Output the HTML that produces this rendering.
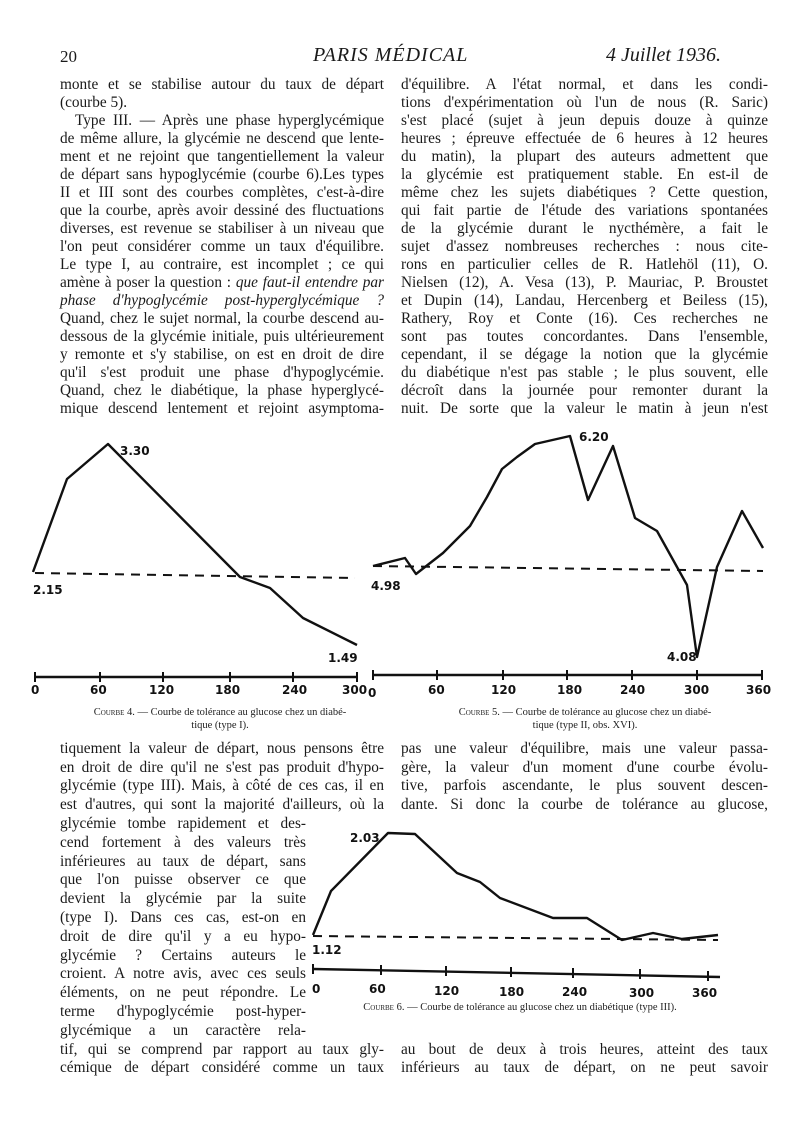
<!DOCTYPE html>
<html><head><meta charset="utf-8">
<style>
html,body{margin:0;padding:0;background:#fff;}
body{width:800px;height:1146px;position:relative;overflow:hidden;font-family:"Liberation Serif",serif;color:#1a1a1a;}
.l{position:absolute;font-size:15.3px;line-height:18px;height:18px;text-align:justify;text-align-last:justify;overflow:visible;}
.L{left:60px;width:324px;}
.R{left:401px;width:367px;}
.N{left:60px;width:246px;}
.nl{text-align-last:left;}
.h{position:absolute;font-size:20px;top:44px;}
.cap{position:absolute;font-size:10.5px;text-align:center;line-height:13px;color:#222;}
.sc{font-variant:small-caps;}
svg text{font-family:"DejaVu Sans",sans-serif;font-weight:bold;fill:#111;}
</style></head><body>
<div class="h" style="left:60px;font-size:17px;top:47px">20</div>
<div class="h" style="left:313px;font-style:italic;letter-spacing:1px">PARIS MÉDICAL</div>
<div class="h" style="left:606px;font-style:italic">4 Juillet 1936.</div>

<div class="l L" style="top:76px">monte et se stabilise autour du taux de départ</div>
<div class="l L nl" style="top:94px">(courbe 5).</div>
<div class="l L" style="top:112px;padding-left:15px;width:309px">Type III. — Après une phase hyperglycémique</div>
<div class="l L" style="top:130px">de même allure, la glycémie ne descend que lente-</div>
<div class="l L" style="top:148px">ment et ne rejoint que tangentiellement la valeur</div>
<div class="l L" style="top:166px">de départ sans hypoglycémie (courbe 6).Les types</div>
<div class="l L" style="top:184px">II et III sont des courbes complètes, c'est-à-dire</div>
<div class="l L" style="top:202px">que la courbe, après avoir dessiné des fluctuations</div>
<div class="l L" style="top:220px">diverses, est revenue se stabiliser à un niveau que</div>
<div class="l L" style="top:238px">l'on peut considérer comme un taux d'équilibre.</div>
<div class="l L" style="top:256px">Le type I, au contraire, est incomplet ; ce qui</div>
<div class="l L" style="top:274px">amène à poser la question : <i>que faut-il entendre par</i></div>
<div class="l L" style="top:292px"><i>phase d'hypoglycémie post-hyperglycémique ?</i></div>
<div class="l L" style="top:310px">Quand, chez le sujet normal, la courbe descend au-</div>
<div class="l L" style="top:328px">dessous de la glycémie initiale, puis ultérieurement</div>
<div class="l L" style="top:346px">y remonte et s'y stabilise, on est en droit de dire</div>
<div class="l L" style="top:364px">qu'il s'est produit une phase d'hypoglycémie.</div>
<div class="l L" style="top:382px">Quand, chez le diabétique, la phase hyperglycé-</div>
<div class="l L" style="top:400px">mique descend lentement et rejoint asymptoma-</div>

<div class="l R" style="top:76px">d'équilibre. A l'état normal, et dans les condi-</div>
<div class="l R" style="top:94px">tions d'expérimentation où l'un de nous (R. Saric)</div>
<div class="l R" style="top:112px">s'est placé (sujet à jeun depuis douze à quinze</div>
<div class="l R" style="top:130px">heures ; épreuve effectuée de 6 heures à 12 heures</div>
<div class="l R" style="top:148px">du matin), la plupart des auteurs admettent que</div>
<div class="l R" style="top:166px">la glycémie est pratiquement stable. En est-il de</div>
<div class="l R" style="top:184px">même chez les sujets diabétiques ? Cette question,</div>
<div class="l R" style="top:202px">qui fait partie de l'étude des variations spontanées</div>
<div class="l R" style="top:220px">de la glycémie durant le nycthémère, a fait le</div>
<div class="l R" style="top:238px">sujet d'assez nombreuses recherches : nous cite-</div>
<div class="l R" style="top:256px">rons en particulier celles de R. Hatlehöl (11), O.</div>
<div class="l R" style="top:274px">Nielsen (12), A. Vesa (13), P. Mauriac, P. Broustet</div>
<div class="l R" style="top:292px">et Dupin (14), Landau, Hercenberg et Beiless (15),</div>
<div class="l R" style="top:310px">Rathery, Roy et Conte (16). Ces recherches ne</div>
<div class="l R" style="top:328px">sont pas toutes concordantes. Dans l'ensemble,</div>
<div class="l R" style="top:346px">cependant, il se dégage la notion que la glycémie</div>
<div class="l R" style="top:364px">du diabétique n'est pas stable ; le plus souvent, elle</div>
<div class="l R" style="top:382px">décroît dans la journée pour remonter durant la</div>
<div class="l R" style="top:400px">nuit. De sorte que la valeur le matin à jeun n'est</div>

<svg style="position:absolute;left:0;top:0" width="800" height="1146">
<g fill="none" stroke="#111" stroke-width="2.4" stroke-linejoin="round">
<polyline points="33,572 67,479 108,444 240,577 270,588 303,618 357,645"/>
<line x1="35" y1="573" x2="355" y2="578" stroke-dasharray="9,7" stroke-width="2"/>
<line x1="35" y1="677" x2="357" y2="677"/>
<path d="M35,672V682M100,672V682M163,672V682M230,672V682M293,672V682M357,672V682" stroke-width="2"/>
<polyline points="373,566 405,558 416,574 443,553 470,526 487,497 502,469 517,457 535,444 570,436 588,500 613,446 635,518 657,531 687,585 697,657 717,567 742,511 763,548"/>
<line x1="373" y1="566" x2="763" y2="571" stroke-dasharray="9,7" stroke-width="2"/>
<line x1="373" y1="675" x2="762" y2="675"/>
<path d="M373,670V680M437,670V680M503,670V680M567,670V680M632,670V680M697,670V680M762,670V680" stroke-width="2"/>
<polyline points="313,935 331,891 388,833 415,834 457,873 480,882 500,898 553,918 587,918 622,940 653,933 682,939 718,935"/>
<line x1="313" y1="936" x2="718" y2="940" stroke-dasharray="9,7" stroke-width="2"/>
<line x1="313" y1="969" x2="720" y2="977"/>
<path d="M313,964V974M381,965V975M446,966V976M511,967V977M573,968V978M640,969V979M708,971V981" stroke-width="2"/>
</g>
<g font-size="12">
<text x="120" y="455">3.30</text>
<text x="33" y="594">2.15</text>
<text x="328" y="662">1.49</text>
<text x="31" y="694">0</text><text x="90" y="694">60</text><text x="149" y="694">120</text><text x="215" y="694">180</text><text x="282" y="694">240</text><text x="342" y="694">300</text>
<text x="579" y="441">6.20</text>
<text x="371" y="590">4.98</text>
<text x="667" y="661">4.08</text>
<text x="368" y="697">0</text><text x="428" y="694">60</text><text x="491" y="694">120</text><text x="557" y="694">180</text><text x="620" y="694">240</text><text x="684" y="694">300</text><text x="746" y="694">360</text>
<text x="350" y="842">2.03</text>
<text x="312" y="954">1.12</text>
<text x="312" y="993">0</text><text x="369" y="993">60</text><text x="434" y="995">120</text><text x="499" y="996">180</text><text x="562" y="996">240</text><text x="629" y="997">300</text><text x="692" y="997">360</text>
</g>
</svg>

<div class="cap" style="left:60px;width:320px;top:706px"><span class="sc">Courbe</span> 4. — Courbe de tolérance au glucose chez un diabé-<br>tique (type I).</div>
<div class="cap" style="left:400px;width:370px;top:706px"><span class="sc">Courbe</span> 5. — Courbe de tolérance au glucose chez un diabé-<br>tique (type II, obs. XVI).</div>
<div class="cap" style="left:300px;width:440px;top:1001px"><span class="sc">Courbe</span> 6. — Courbe de tolérance au glucose chez un diabétique (type III).</div>

<div class="l L" style="top:740px">tiquement la valeur de départ, nous pensons être</div>
<div class="l L" style="top:759px">en droit de dire qu'il ne s'est pas produit d'hypo-</div>
<div class="l L" style="top:777px">glycémie (type III). Mais, à côté de ces cas, il en</div>
<div class="l L" style="top:796px">est d'autres, qui sont la majorité d'ailleurs, où la</div>
<div class="l N" style="top:815px">glycémie tombe rapidement et des-</div>
<div class="l N" style="top:834px">cend fortement à des valeurs très</div>
<div class="l N" style="top:853px">inférieures au taux de départ, sans</div>
<div class="l N" style="top:871px">que l'on puisse observer ce que</div>
<div class="l N" style="top:890px">devient la glycémie par la suite</div>
<div class="l N" style="top:909px">(type I). Dans ces cas, est-on en</div>
<div class="l N" style="top:928px">droit de dire qu'il y a eu hypo-</div>
<div class="l N" style="top:947px">glycémie ? Certains auteurs le</div>
<div class="l N" style="top:965px">croient. A notre avis, avec ces seuls</div>
<div class="l N" style="top:984px">éléments, on ne peut répondre. Le</div>
<div class="l N" style="top:1003px">terme d'hypoglycémie post-hyper-</div>
<div class="l N" style="top:1022px">glycémique a un caractère rela-</div>
<div class="l L" style="top:1041px">tif, qui se comprend par rapport au taux gly-</div>
<div class="l L" style="top:1059px">cémique de départ considéré comme un taux</div>

<div class="l R" style="top:740px">pas une valeur d'équilibre, mais une valeur passa-</div>
<div class="l R" style="top:759px">gère, la valeur d'un moment d'une courbe évolu-</div>
<div class="l R" style="top:777px">tive, parfois ascendante, le plus souvent descen-</div>
<div class="l R" style="top:796px">dante. Si donc la courbe de tolérance au glucose,</div>
<div class="l R" style="top:1041px">au bout de deux à trois heures, atteint des taux</div>
<div class="l R" style="top:1059px">inférieurs au taux de départ, on ne peut savoir</div>
</body></html>
